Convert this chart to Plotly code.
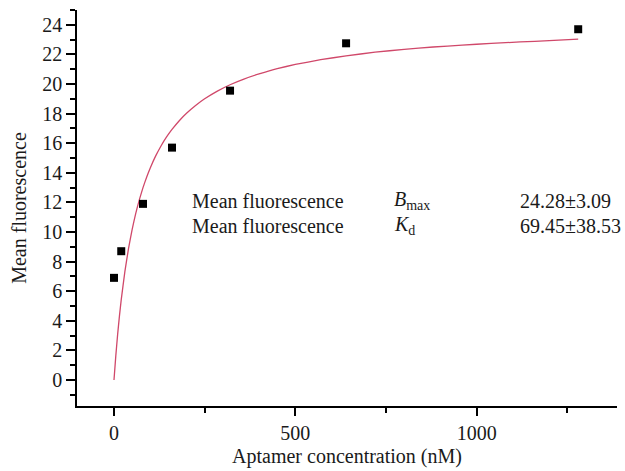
import plotly.graph_objects as go

# Measured points
conc = [0, 20, 80, 160, 320, 640, 1280]
fluor = [6.9, 8.7, 11.9, 15.7, 19.55, 22.75, 23.7]

# Fitted curve
fit_x = [0, 5, 10, 15, 20, 30, 40, 50, 60, 70, 80, 90, 100, 115, 130, 145, 160, 180, 200, 225,
         250, 285, 320, 360, 400, 450, 500, 570, 640, 720, 800, 880, 960, 1040, 1120, 1200, 1280]
fit_y = [0, 1.63, 3.06, 4.31, 5.43, 7.32, 8.87, 10.16, 11.26, 12.19, 13.0, 13.7, 14.33, 15.14, 15.83,
         16.42, 16.93, 17.52, 18.02, 18.55, 19.0, 19.52, 19.95, 20.35, 20.68, 21.04, 21.32, 21.64,
         21.9, 22.15, 22.34, 22.5, 22.63, 22.74, 22.84, 22.93, 23.03]

row_labels = ["Mean fluorescence", "Mean fluorescence"]
param_labels = ["<i>B</i><sub>max</sub>", "<i>K</i><sub>d</sub>"]
param_values = ["24.28±3.09", "69.45±38.53"]

FONT = "Liberation Serif, Times New Roman, serif"

fig = go.Figure()
fig.add_trace(go.Scatter(x=fit_x, y=fit_y, mode="lines", line=dict(color="#d0486a", width=1.3, shape="spline", smoothing=0.3),
                         hoverinfo="skip", showlegend=False))
fig.add_trace(go.Scatter(x=conc, y=fluor, mode="markers",
                         marker=dict(symbol="square", size=8, color="black"), showlegend=False))

row_y = [0.518, 0.455]
for i in range(2):
    fig.add_annotation(x=0.2093, y=row_y[i], xref="paper", yref="paper", text=row_labels[i],
                       showarrow=False, xanchor="left", yanchor="middle", font=dict(family=FONT, size=20, color="#1a1a1a"))
    fig.add_annotation(x=0.5833, y=row_y[i], xref="paper", yref="paper", text=param_labels[i],
                       showarrow=False, xanchor="left", yanchor="middle", font=dict(family=FONT, size=20, color="#1a1a1a"))
    fig.add_annotation(x=0.8167, y=row_y[i], xref="paper", yref="paper", text=param_values[i],
                       showarrow=False, xanchor="left", yanchor="middle", font=dict(family=FONT, size=20, color="#1a1a1a"))

fig.update_layout(
    width=625, height=471,
    margin=dict(l=77, r=8, t=10, b=65),
    paper_bgcolor="white", plot_bgcolor="white",
    font=dict(family=FONT, size=20, color="#1a1a1a"),
)
fig.update_xaxes(range=[-102, 1387], showgrid=False, zeroline=False, showline=True, linecolor="black", linewidth=1.5,
                 ticks="outside", ticklen=8, tickwidth=1.5, tickcolor="black", tick0=0, dtick=500,
                 minor=dict(ticks="outside", ticklen=5, tickwidth=1.5, tickcolor="black", dtick=250),
                 title=dict(text="Aptamer concentration (nM)", standoff=6, font=dict(family=FONT, size=20)))
fig.update_yaxes(range=[-1.76, 25.0], showgrid=False, zeroline=False, showline=True, linecolor="black", linewidth=1.5,
                 ticks="outside", ticklen=9, tickwidth=1.5, tickcolor="black", tick0=0, dtick=2,
                 minor=dict(ticks="outside", ticklen=5, tickwidth=1.5, tickcolor="black", dtick=1),
                 title=dict(text="Mean fluorescence", standoff=10, font=dict(family=FONT, size=20)))

fig.write_html("out.html")
